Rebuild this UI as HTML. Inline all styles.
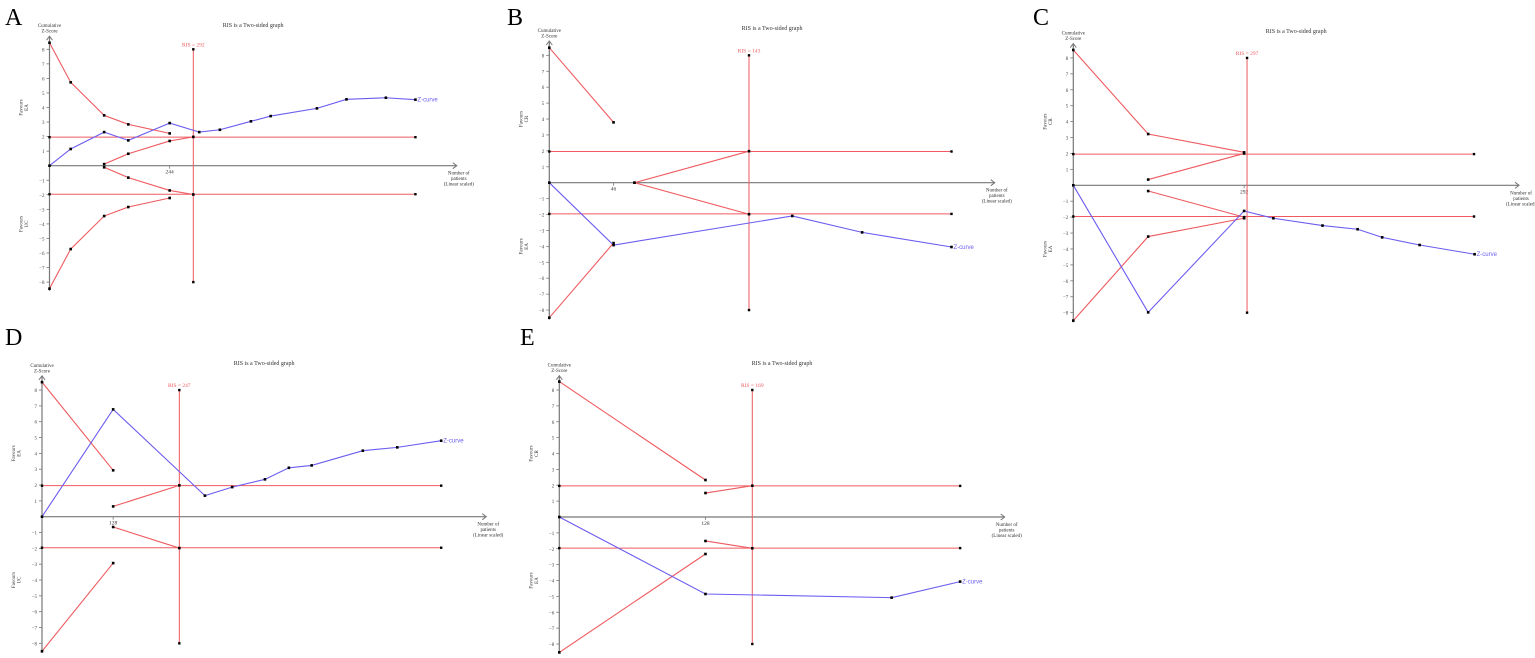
<!DOCTYPE html>
<html><head><meta charset="utf-8"><style>
html,body{margin:0;padding:0;background:#fff}
svg{display:block}
text{font-family:"Liberation Serif",serif}
text.sans{font-family:"Liberation Sans",sans-serif}
</style></head><body>
<svg id="fig" width="1535" height="658" viewBox="0 0 1535 658" xmlns="http://www.w3.org/2000/svg"></svg>
<script>
// Panel A
const aZx=[0,43,111,160,244,304,346,409,449,543,603,683,743];
const aZy=[0,1.15,2.31,1.74,2.93,2.31,2.47,3.05,3.41,3.94,4.56,4.67,4.54];
const aUpX=[0,43,111,160,244];
const aUpY=[8.45,5.73,3.46,2.84,2.22];
const aInX=[111,160,244,292];
const aInY=[0.11,0.82,1.70,1.98];
// Panel B
const bZx=[0,46,174,224,288];
const bZy=[0,-3.92,-2.09,-3.12,-4.04];
const bUpX=[0,46];
const bUpY=[8.48,3.79];
const bInX=[61,143];
const bInY=[0,1.98];
// Panel C
const cZx=[0,128,292,342,426,486,528,592,686];
const cZy=[0,-7.98,-1.61,-2.07,-2.53,-2.76,-3.27,-3.75,-4.33];
const cUpX=[0,128,292];
const cUpY=[8.5,3.22,2.07];
const cInX=[128,292];
const cInY=[0.36,2.0];
// Panel D
const dZx=[0,128,293,342,401,444,485,577,639,718];
const dZy=[0,6.78,1.33,1.87,2.36,3.09,3.24,4.17,4.38,4.80];
const dUpX=[0,128];
const dUpY=[8.5,2.93];
const dInX=[128,247];
const dInY=[0.65,1.98];
// Panel E
const eZx=[0,128,291,351];
const eZy=[0,-4.85,-5.08,-4.07];
const eUpX=[0,128];
const eUpY=[8.53,2.33];
const eInX=[128,169];
const eInY=[1.51,1.97];
const risVals=[292,143,297,247,169];
const tickVals=[244,46,292,128,128];
const yTicks=[-8,-7,-6,-5,-4,-3,-2,-1,1,2,3,4,5,6,7,8];

const NS="http://www.w3.org/2000/svg";
const svg=document.getElementById('fig');
const RED="#ee5a5f",BLUE="#6b5cf0",AX="#777";
function mk(tag,attrs,parent){const e=document.createElementNS(NS,tag);for(const k in attrs)e.setAttribute(k,attrs[k]);(parent||svg).appendChild(e);return e;}
function txt(x,y,s,size,fill,anchor,parent){const t=mk('text',{x:x,y:y,'font-size':size,fill:fill||'#222','text-anchor':anchor||'middle'},parent);t.textContent=s;return t;}

const panels=[
 {L:'A',lx:5,ly:25,ox:49.5,oy:165.7,u:14.55,k:0.4925,end:743,arr:827,ty:27,top:'EA',bot:'UC',zx:aZx,zy:aZy,ux:aUpX,uy:aUpY,ix:aInX,iy:aInY},
 {L:'B',lx:507,ly:25,ox:549.3,oy:182.7,u:15.92,k:1.3965,end:288,arr:319,ty:30,top:'CR',bot:'EA',zx:bZx,zy:bZy,ux:bUpX,uy:bUpY,ix:bInX,iy:bInY},
 {L:'C',lx:1033,ly:25,ox:1073.3,oy:185.3,u:15.92,k:0.585,end:685,arr:762,ty:33,top:'CR',bot:'EA',zx:cZx,zy:cZy,ux:cUpX,uy:cUpY,ix:cInX,iy:cInY},
 {L:'D',lx:5,ly:345,ox:42,oy:516.7,u:15.83,k:0.556,end:718,arr:799,ty:365,top:'EA',bot:'UC',zx:dZx,zy:dZy,ux:dUpX,uy:dUpY,ix:dInX,iy:dInY},
 {L:'E',lx:520,ly:345,ox:559.3,oy:517,u:15.875,k:1.142,end:351,arr:390,ty:365,top:'CR',bot:'EA',zx:eZx,zy:eZy,ux:eUpX,uy:eUpY,ix:eInX,iy:eInY}
];

panels.forEach((p,pi)=>{
 const g=mk('g',{});
 
 
 const X=v=>p.ox+v*p.k, Y=v=>p.oy-v*p.u;
 const letter=txt(p.lx,p.ly,p.L,24,'#000','start',g);
 
 
 const title=txt((p.ox+X(p.arr))/2,p.ty,'RIS is a Two-sided graph',6,'#333','middle',g);
 
 
 const ya=mk('line',{x1:p.ox,y1:Y(-8.6),x2:p.ox,y2:Y(8.9),stroke:AX,'stroke-width':1.2},g);
 
 
 mk('polyline',{points:`${p.ox-3},${Y(8.9)+4} ${p.ox},${Y(8.9)} ${p.ox+3},${Y(8.9)+4}`,fill:'none',stroke:AX,'stroke-width':1},g);
 const xa=mk('line',{x1:p.ox,y1:p.oy,x2:X(p.arr),y2:p.oy,stroke:AX,'stroke-width':1.2},g);
 
 
 mk('polyline',{points:`${X(p.arr)-4},${p.oy-3} ${X(p.arr)},${p.oy} ${X(p.arr)-4},${p.oy+3}`,fill:'none',stroke:AX,'stroke-width':1},g);
 yTicks.forEach(t=>{
  mk('line',{x1:p.ox-3,y1:Y(t),x2:p.ox,y2:Y(t),stroke:AX,'stroke-width':0.8},g);
  const tl=txt(p.ox-5,Y(t)+2,String(t).replace('-','−'),5,'#444','end',g);
  
  
 });
 mk('line',{x1:X(tickVals[pi]),y1:p.oy,x2:X(tickVals[pi]),y2:p.oy+3,stroke:AX,'stroke-width':0.8},g);
 const xt=txt(X(tickVals[pi]),p.oy+8,String(tickVals[pi]),5.5,'#333','middle',g);
 
 
 const yt=txt(p.ox,Y(8.9)-9,'Cumulative',5,'#333','middle',g);
 
 
 txt(p.ox,Y(8.9)-3.5,'Z-Score',5,'#333','middle',g);
 const xl=X(p.arr)+2;
 const xtt=txt(xl,p.oy+9,'Number of',5,'#333','middle',g);
 
 
 txt(xl,p.oy+14.5,'patients',5,'#333','middle',g);
 txt(xl,p.oy+20,'(Linear scaled)',5,'#333','middle',g);
 [[p.top,4],[p.bot,-4]].forEach(([lab,v])=>{
  const fx=p.ox-27, fy=Y(v);
  const fg=mk('g',{transform:`translate(${fx},${fy}) rotate(-90)`},g);
  
  
  txt(0,0,'Favours',5,'#333','middle',fg);
  txt(0,5.5,lab,5,'#333','middle',fg);
 });
 [1.96,-1.96].forEach(v=>{
  const hl=mk('line',{x1:X(0),y1:Y(v),x2:X(p.end),y2:Y(v),stroke:RED,'stroke-width':1},g);
  
  
  mk('rect',{x:X(0)-1.2,y:Y(v)-1.2,width:2.4,height:2.4,fill:'#000'},g);
  mk('rect',{x:X(p.end)-1.2,y:Y(v)-1.2,width:2.4,height:2.4,fill:'#000'},g);
 });
 const rl=mk('line',{x1:X(risVals[pi]),y1:Y(8),x2:X(risVals[pi]),y2:Y(-8),stroke:RED,'stroke-width':1},g);
 
 
 mk('rect',{x:X(risVals[pi])-1.2,y:Y(8)-1.2,width:2.4,height:2.4,fill:'#000'},g);
 mk('rect',{x:X(risVals[pi])-1.2,y:Y(-8)-1.2,width:2.4,height:2.4,fill:'#000'},g);
 const rt=txt(X(risVals[pi]),Y(8)-3,'RIS = '+risVals[pi],5.5,RED,'middle',g);
 
 
 function series(xs,ys,sign,col,name){
  const pts=xs.map((x,i)=>X(x)+','+Y(sign*ys[i])).join(' ');
  const pl=mk('polyline',{points:pts,fill:'none',stroke:col,'stroke-width':1.1},g);
  
  
  xs.forEach((x,i)=>{mk('rect',{x:X(x)-1.3,y:Y(sign*ys[i])-1.3,width:2.6,height:2.6,fill:'#000'},g);});
 }
 series(p.ux,p.uy,1,RED,'upper-monitoring-boundary');
 series(p.ux,p.uy,-1,RED,'lower-monitoring-boundary');
 series(p.ix,p.iy,1,RED,'upper-futility-boundary');
 series(p.ix,p.iy,-1,RED,'lower-futility-boundary');
 series(p.zx,p.zy,1,BLUE,'z-curve');
 const lx=p.zx[p.zx.length-1], ly=p.zy[p.zy.length-1];
 const zl=txt(X(lx)+2,Y(ly)+2,'Z-curve',6,BLUE,'start',g);
 
 
 zl.setAttribute('class','sans');
});
</script>
</body></html>
